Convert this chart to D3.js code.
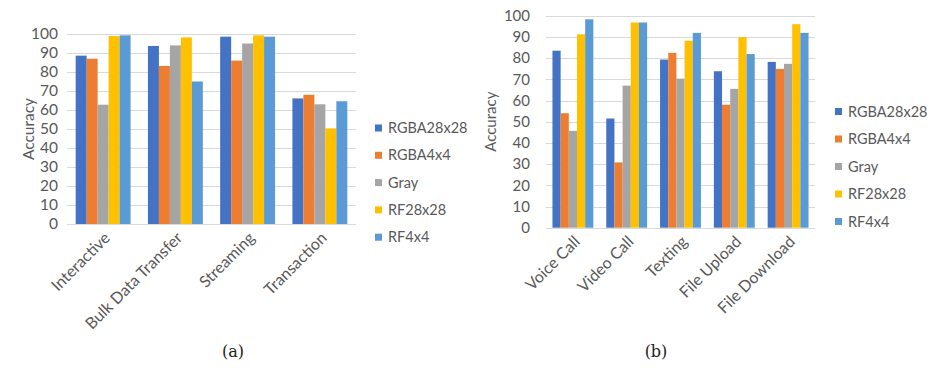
<!DOCTYPE html>
<html><head><meta charset="utf-8">
<script src="https://cdn.jsdelivr.net/npm/d3@7"></script>
<style>
body{margin:0;background:#fff;}
svg text{font-family:Lato,"Open Sans",sans-serif;}
</style></head>
<body><svg id="c" width="936" height="374"></svg>
<script>
const seriesNames = ["RGBA28x28","RGBA4x4","Gray","RF28x28","RF4x4"];
const seriesColors = ["#4472C4","#ED7D31","#A5A5A5","#FFC000","#5B9BD5"];
const yTicks = [0,10,20,30,40,50,60,70,80,90,100];

const catsA = ["Interactive","Bulk Data Transfer","Streaming","Transaction"];
const a_RGBA28 = [88.6, 93.7, 98.6, 66.1];
const a_RGBA4  = [87.0, 83.2, 86.0, 68.0];
const a_Gray   = [62.8, 94.0, 95.0, 63.0];
const a_RF28   = [98.9, 98.2, 99.3, 50.3];
const a_RF4    = [99.3, 75.0, 98.6, 64.6];

const catsB = ["Voice Call","Video Call","Texting","File Upload","File Download"];
const b_RGBA28 = [83.5, 51.5, 79.3, 73.8, 78.2];
const b_RGBA4  = [54.0, 30.8, 82.5, 58.0, 74.9];
const b_Gray   = [45.7, 67.0, 70.3, 65.5, 77.3];
const b_RF28   = [91.2, 96.8, 88.2, 89.9, 96.0];
const b_RF4    = [98.3, 96.8, 91.9, 81.9, 91.9];

const svg = d3.select("#c");
const TXT = "#595959";

function chart(cfg){
  const {cats, series, x0, x1, yTop, yBot, labelRight, titleX, legX, legY0, legStep, caption, capX, tickFs, xFs, legFs} = cfg;
  const g = svg.append("g");
  const x = d3.scaleBand().domain(cats).range([x0, x1]).paddingInner(0.24).paddingOuter(0.12);
  const xs = d3.scaleBand().domain(seriesNames).range([0, x.bandwidth()]);
  const y = d3.scaleLinear().domain([0,100]).range([yBot, yTop]);

  g.selectAll("line.grid").data(yTicks).join("line")
    .attr("x1", x0).attr("x2", x1)
    .attr("y1", d => Math.round(y(d))+0.5).attr("y2", d => Math.round(y(d))+0.5)
    .attr("stroke", "#d9d9d9").attr("stroke-width", 1);

  g.selectAll("text.yt").data(yTicks).join("text")
    .attr("x", labelRight).attr("y", d => y(d)).attr("dy", "0.35em")
    .attr("text-anchor", "end").attr("font-size", tickFs).attr("fill", TXT)
    .text(d => d);

  seriesNames.forEach((s, i) => {
    g.selectAll(null).data(cats).join("rect")
      .attr("x", c => x(c) + xs(s))
      .attr("width", xs.bandwidth())
      .attr("y", (c, j) => y(series[i][j]))
      .attr("height", (c, j) => y(0) - y(series[i][j]))
      .attr("fill", seriesColors[i]);
  });

  g.selectAll("text.xl").data(cats).join("text")
    .attr("transform", c => `translate(${x(c) + x.bandwidth()/2 + 4},${yBot + 11}) rotate(-45)`)
    .attr("text-anchor", "end").attr("dy", "0.35em")
    .attr("font-size", xFs).attr("fill", TXT)
    .text(c => c);

  g.append("text")
    .attr("transform", `translate(${titleX},${(yTop+yBot)/2}) rotate(-90)`)
    .attr("text-anchor", "middle").attr("dy", "0.35em")
    .attr("font-size", tickFs).attr("fill", TXT).text("Accuracy");

  const leg = g.selectAll("g.leg").data(seriesNames).join("g")
    .attr("transform", (d, i) => `translate(${legX},${legY0 + i*legStep})`);
  leg.append("rect").attr("x", 0).attr("y", -3.5).attr("width", 7).attr("height", 7)
    .attr("fill", (d, i) => seriesColors[i]);
  leg.append("text").attr("x", 13).attr("dy", "0.35em")
    .attr("font-size", legFs).attr("fill", TXT).text(d => d);

  svg.append("text").attr("x", capX).attr("y", 357).attr("text-anchor", "middle")
    .style("font-family", "'DejaVu Serif','Liberation Serif',serif")
    .attr("font-size", 16).attr("fill", "#222").text(caption);
}

chart({cats: catsA, series: [a_RGBA28, a_RGBA4, a_Gray, a_RF28, a_RF4],
  x0: 67, x1: 356, yTop: 34, yBot: 224, labelRight: 58, titleX: 29,
  legX: 375, legY0: 128, legStep: 27.3, caption: "(a)", capX: 233,
  tickFs: 15.5, xFs: 16, legFs: 14.5});

chart({cats: catsB, series: [b_RGBA28, b_RGBA4, b_Gray, b_RF28, b_RF4],
  x0: 546, x1: 815, yTop: 15.7, yBot: 227.7, labelRight: 530, titleX: 491,
  legX: 835, legY0: 111.5, legStep: 27.5, caption: "(b)", capX: 656,
  tickFs: 15, xFs: 16, legFs: 14.5});
</script>
</body></html>
